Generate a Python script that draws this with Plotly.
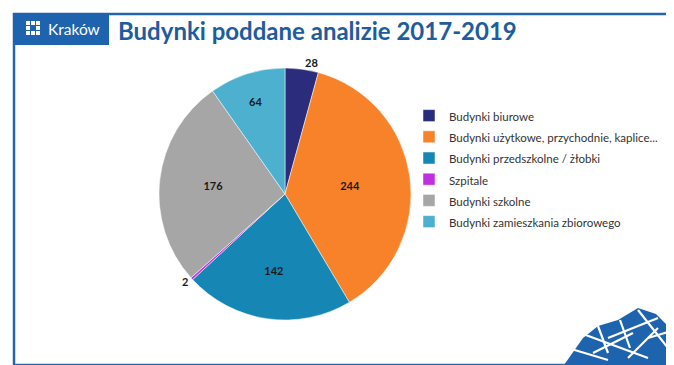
import plotly.graph_objects as go

labels = ["Budynki biurowe",
          "Budynki użytkowe, przychodnie, kaplice...",
          "Budynki przedszkolne / żłobki",
          "Szpitale",
          "Budynki szkolne",
          "Budynki zamieszkania zbiorowego"]
values = [28, 244, 142, 2, 176, 64]
colors = ["#2B2C7C", "#F7822A", "#1686B4", "#C030E0", "#A6A6A6", "#4DB0CE"]
text_pos = ["outside", "inside", "inside", "outside", "inside", "inside"]

W, H = 674, 365
def px(x): return x / W
def py(y): return 1 - y / H

legend_labels = [f'<span style="font-size:11.5px">{l}</span>' for l in labels]

fig = go.Figure(go.Pie(
    labels=legend_labels, values=values, sort=False, direction="clockwise", rotation=0,
    marker=dict(colors=colors, line=dict(color="white", width=0.5)),
    texttemplate="%{value}", textposition=text_pos,
    insidetextorientation="horizontal",
    textfont=dict(family="Lato", size=11, color="#1a1a1a", weight="bold"),
    outsidetextfont=dict(family="Lato", size=11, color="#1a1a1a", weight="bold"),
    domain=dict(x=[px(151), px(403)], y=[py(312), py(60)]),
    hoverinfo="value",
))

shapes = [
    dict(type="rect", xref="paper", yref="paper", x0=px(6), x1=px(667), y0=py(357), y1=py(6),
         line=dict(color="#2366AE", width=2.5), fillcolor="rgba(0,0,0,0)"),
    dict(type="rect", xref="paper", yref="paper", x0=px(5), x1=px(101), y0=py(37), y1=py(5),
         line=dict(width=0), fillcolor="#1E63AE"),
]
# small logo grid
for i in range(3):
    for j in range(3):
        if i == 1 and j == 1:
            continue
        x0 = 18 + i * 5
        y0 = 13 + j * 5
        shapes.append(dict(type="rect", xref="paper", yref="paper",
                           x0=px(x0), x1=px(x0 + 4), y0=py(y0 + 4), y1=py(y0),
                           line=dict(width=0), fillcolor="white"))
# decorative city pattern bottom right
city = "556 357,575 330,590 318,610 312,630 300,648 306,660 318,667 330,667 357"
pts = [tuple(map(float, p.split())) for p in city.split(",")]
path = "M " + " L ".join(f"{px(a)} {py(b)}" for a, b in pts) + " Z"
shapes.append(dict(type="path", xref="paper", yref="paper", path=path,
                   line=dict(width=0), fillcolor="#1E63AE"))
white_lines = [(560, 340, 600, 352), (575, 326, 640, 350), (590, 318, 600, 345),
               (612, 312, 622, 340), (630, 302, 660, 340), (600, 330, 650, 310),
               (640, 330, 667, 322), (620, 350, 650, 320), (585, 345, 625, 325)]
for x0, y0, x1, y1 in white_lines:
    shapes.append(dict(type="line", xref="paper", yref="paper", x0=px(x0), y0=py(y0),
                       x1=px(x1), y1=py(y1), line=dict(color="white", width=2.2)))

fig.update_layout(
    width=W, height=H, margin=dict(l=0, r=0, t=0, b=0),
    paper_bgcolor="white", plot_bgcolor="white",
    showlegend=True,
    legend=dict(x=px(401), y=py(92), xanchor="left", yanchor="top",
                font=dict(family="Lato", size=14, color="#333333"),
                itemwidth=30, tracegroupgap=0, bgcolor="rgba(0,0,0,0)"),
    shapes=shapes,
    annotations=[
        dict(text="Kraków", x=px(38), y=py(21), xref="paper", yref="paper",
             xanchor="left", yanchor="middle", showarrow=False,
             font=dict(family="Lato", size=15.5, color="white")),
        dict(text="<b>Budynki poddane analizie 2017-2019</b>", x=px(108), y=py(23),
             xref="paper", yref="paper", xanchor="left", yanchor="middle", showarrow=False,
             font=dict(family="Lato", size=24, color="#1E5C9E")),
    ],
)
fig.write_html("out.html")
